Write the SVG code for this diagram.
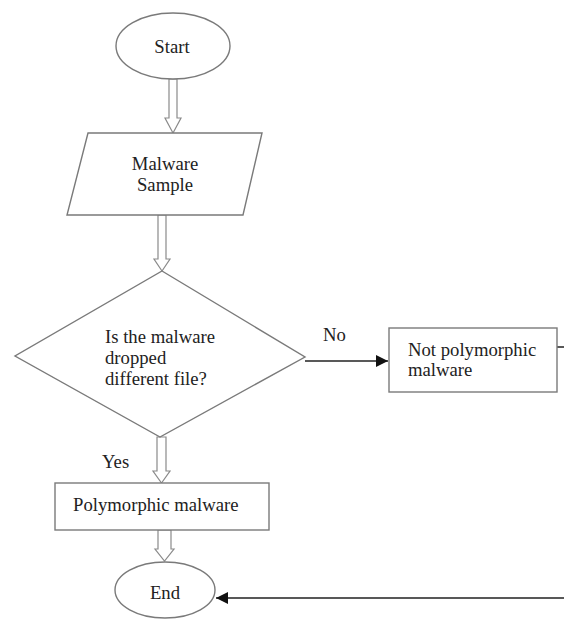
<svg xmlns="http://www.w3.org/2000/svg" width="564" height="619" viewBox="0 0 564 619">
<defs>
<style>
.shape{fill:#fff;stroke:#7a7a7a;stroke-width:1.4}
.blk{fill:#fff;stroke:#8a8a8a;stroke-width:1.2}
.t{font-family:"Liberation Serif","Times New Roman",serif;font-size:18.7px;fill:#222}
.c{text-anchor:middle}
.line{fill:none;stroke:#222;stroke-width:1.3}
</style>
<marker id="ah" viewBox="0 0 10 10" refX="10" refY="5" markerWidth="18" markerHeight="12" markerUnits="userSpaceOnUse" orient="auto">
<path d="M0,0 L10,5 L0,10 z" fill="#111"/>
</marker>
</defs>
<rect width="564" height="619" fill="#fff"/>
<g id="connectors">
<polygon class="blk" points="169,79 169,118 165,118 173,133 181,118 177,118 177,79"/>
<polygon class="blk" points="158,215 158,259 154,259 162,271 170,259 166,259 166,215"/>
<polygon class="blk" points="157,437 157,471 153,471 161.5,483 170,471 166,471 166,437"/>
<polygon class="blk" points="158,530 158,549 155,549 164.5,561 174,549 171,549 171,530"/>
<path class="line" d="M305,361 H388" marker-end="url(#ah)"/>
<path class="line" d="M557,347 H570 V598 H216" marker-end="url(#ah)"/>
<text class="t" x="323" y="341">No</text>
<text class="t" x="102" y="468">Yes</text>
</g>
<g id="start">
<ellipse class="shape" cx="173" cy="46" rx="57" ry="33"/>
<text class="t c" x="172" y="53">Start</text>
</g>
<g id="sample">
<polygon class="shape" points="88,133 262,133 243,215 67,215"/>
<text class="t c" x="165" y="170">Malware</text>
<text class="t c" x="165" y="191">Sample</text>
</g>
<g id="decision">
<polygon class="shape" points="162,271 305,357 160,437 15,356"/>
<text class="t" x="105" y="343">Is the malware</text>
<text class="t" x="105" y="364">dropped</text>
<text class="t" x="105" y="385">different file?</text>
</g>
<g id="notpoly">
<rect class="shape" x="389" y="328" width="168" height="64"/>
<text class="t" x="408" y="356">Not polymorphic</text>
<text class="t" x="408" y="376">malware</text>
</g>
<g id="poly">
<rect class="shape" x="55" y="483" width="214" height="47"/>
<text class="t" x="73" y="511">Polymorphic malware</text>
</g>
<g id="end">
<ellipse class="shape" cx="165" cy="590" rx="50" ry="28"/>
<text class="t c" x="165" y="599">End</text>
</g>
</svg>
